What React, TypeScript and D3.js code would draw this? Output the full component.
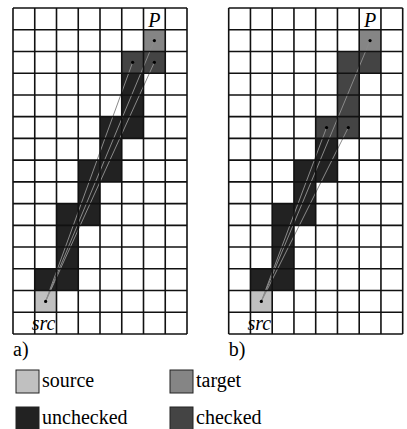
import React from "react"
import { scaleBand, range } from "d3"

const cols = range(8)
const rows = range(15)

// cell fills per panel: [col, row, kind]
const cellsA: [number, number, string][] = [
  [1, 13, "source"], [6, 1, "target"],
  [5, 2, "checked"], [6, 2, "checked"],
  [5, 3, "unchecked"], [5, 4, "unchecked"], [4, 5, "unchecked"], [5, 5, "unchecked"],
  [4, 6, "unchecked"], [3, 7, "unchecked"], [4, 7, "unchecked"], [3, 8, "unchecked"],
  [2, 9, "unchecked"], [3, 9, "unchecked"], [2, 10, "unchecked"], [2, 11, "unchecked"],
  [1, 12, "unchecked"], [2, 12, "unchecked"],
]
const cellsB: [number, number, string][] = [
  [1, 13, "source"], [6, 1, "target"],
  [5, 2, "checked"], [6, 2, "checked"], [5, 3, "checked"], [5, 4, "checked"],
  [4, 5, "checked"], [5, 5, "checked"],
  [4, 6, "unchecked"], [3, 7, "unchecked"], [4, 7, "unchecked"], [3, 8, "unchecked"],
  [2, 9, "unchecked"], [3, 9, "unchecked"], [2, 10, "unchecked"], [2, 11, "unchecked"],
  [1, 12, "unchecked"], [2, 12, "unchecked"],
]
const src: [number, number] = [1, 13]
const dotsA: [number, number][] = [[6, 1], [5, 2], [6, 2]]
const dotsB: [number, number][] = [[6, 1], [4, 5], [5, 5]]

const colors: Record<string, string> = {
  source: "#c0c0c0",
  target: "#858585",
  unchecked: "#222222",
  checked: "#444444",
}
const legend = [
  ["source", "target"],
  ["unchecked", "checked"],
]

const serif = { fontFamily: "'Times New Roman', 'Liberation Serif', 'DejaVu Serif', serif" }

const Panel = ({ x0, label, cells, dots }: any) => {
  const x = scaleBand<number>().domain(cols).range([x0, x0 + 174])
  const y = scaleBand<number>().domain(rows).range([8, 334])
  const bw = x.bandwidth()
  const bh = y.bandwidth()
  const cx = (c: number) => x(c)! + bw / 2
  const cy = (r: number) => y(r)! + bh / 2
  return (
    <g>
      {cells.map(([c, r, k]: any, i: number) => (
        <rect key={i} x={x(c)} y={y(r)} width={bw} height={bh} fill={colors[k]} />
      ))}
      {dots.map(([c, r]: any, i: number) => (
        <line key={i} x1={cx(src[0])} y1={cy(src[1])} x2={cx(c)} y2={cy(r)}
          stroke="#8a8a8a" strokeWidth={1} />
      ))}
      {cols.concat([8]).map((c) => (
        <line key={"v" + c} x1={x0 + c * bw} x2={x0 + c * bw} y1={8} y2={334}
          stroke="#111" strokeWidth={1.6} />
      ))}
      {rows.concat([15]).map((r) => (
        <line key={"h" + r} x1={x0} x2={x0 + 174} y1={8 + r * bh} y2={8 + r * bh}
          stroke="#111" strokeWidth={1.6} />
      ))}
      {dots.concat([src]).map(([c, r]: any, i: number) => (
        <circle key={"d" + i} cx={cx(c)} cy={cy(r)} r={1.6} fill="#000" />
      ))}
      <text x={cx(6)} y={y(0)! + bh - 3} textAnchor="middle" fontStyle="italic"
        fontSize={20} style={serif}>P</text>
      <text x={cx(1) - 2} y={y(14)! + bh - 4} textAnchor="middle" fontStyle="italic"
        fontSize={20} style={serif}>src</text>
      <text x={x0} y={356} fontSize={20} style={serif}>{label}</text>
    </g>
  )
}

export default function App() {
  return (
    <svg width={407} height={429} style={{ position: "absolute", left: 0, top: 0, background: "#fff" }}>
      <Panel x0={13} label="a)" cells={cellsA} dots={dotsA} />
      <Panel x0={228.7} label="b)" cells={cellsB} dots={dotsB} />
      {legend.map((row, ri) =>
        row.map((k, ci) => (
          <g key={k} transform={`translate(${16 + ci * 154}, ${370 + ri * 37})`}>
            <rect x={0} y={0} width={23} height={23} fill={colors[k]} stroke="#222" strokeWidth={1} />
            <text x={26} y={17} fontSize={20} style={serif}>{k}</text>
          </g>
        ))
      )}
    </svg>
  )
}
